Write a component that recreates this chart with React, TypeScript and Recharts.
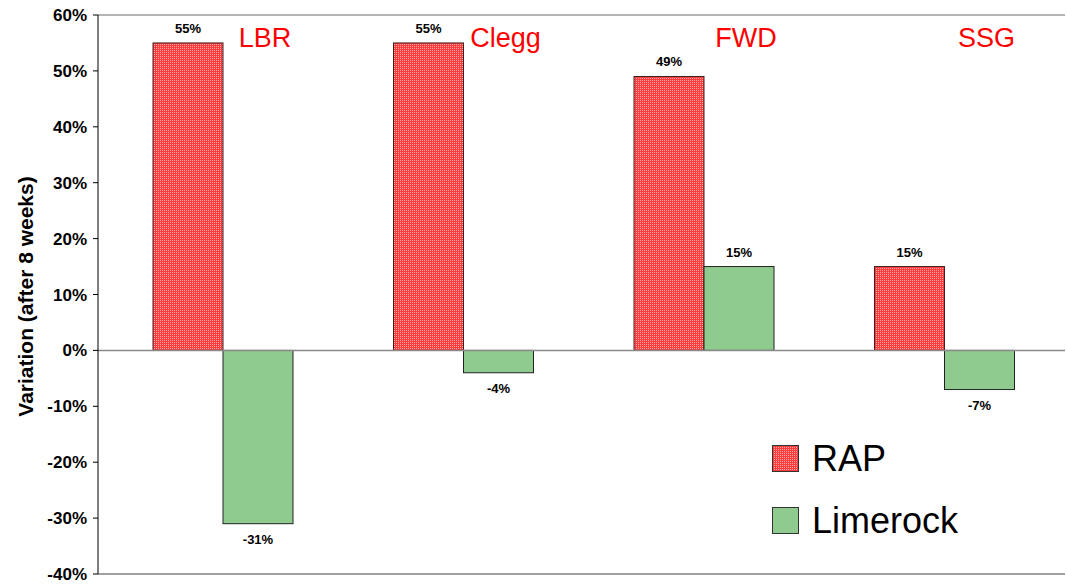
import React from "react";
import {
  BarChart,
  Bar,
  XAxis,
  YAxis,
  ReferenceLine,
  LabelList,
} from "recharts";

const categories = ["LBR", "Clegg", "FWD", "SSG"];
const rapValues = [55, 55, 49, 15];
const limerockValues = [-31, -4, 15, -7];
const yTicks = [-40, -30, -20, -10, 0, 10, 20, 30, 40, 50, 60];
const seriesNames = ["RAP", "Limerock"];

const data = categories.map((name, i) => ({
  name,
  rap: rapValues[i],
  limerock: limerockValues[i],
}));

const FONT = "'Liberation Sans', Arial, Helvetica, sans-serif";
const PLOT_TOP = 15;
const RAP_RED = "#ff3c3c";
const RAP_LIGHT = "#ffa6a6";
const LIME_GREEN = "#8fca8f";
const RAP_FILL = "url(#rapDots)";

const ValueLabel = (props: any) => {
  const { x, y, width, height, value } = props;
  const top = Math.min(y, y + height);
  const bottom = Math.max(y, y + height);
  const ty = value < 0 ? bottom + 20 : top - 10;
  return (
    <text
      x={x + width / 2}
      y={ty}
      textAnchor="middle"
      fontFamily={FONT}
      fontWeight="bold"
      fontSize={13}
      fill="#000"
    >
      {`${value}%`}
    </text>
  );
};

const CategoryLabel = (props: any) => {
  const { x, width, value } = props;
  return (
    <text
      x={x + width + 42}
      y={PLOT_TOP + 32}
      textAnchor="middle"
      fontFamily={FONT}
      fontSize={27}
      fill="#ff0000"
    >
      {value}
    </text>
  );
};

const YLabel = (props: any) => {
  const { viewBox } = props;
  const cy = viewBox.y + viewBox.height / 2 + 2;
  return (
    <text
      x={25}
      y={cy}
      transform={`rotate(-90 25 ${cy})`}
      textAnchor="middle"
      dominantBaseline="central"
      fontFamily={FONT}
      fontWeight="bold"
      fontSize={21}
      fill="#000"
    >
      Variation (after 8 weeks)
    </text>
  );
};

// plain rect so the dotted pattern is painted as-is
const BarShape = (props: any) => {
  const { x, y, width, height, fill, stroke } = props;
  const top = Math.min(y, y + height);
  const h = Math.abs(height);
  return (
    <rect
      x={x}
      y={top}
      width={width}
      height={h}
      fill={fill}
      stroke={stroke}
      strokeWidth={1}
    />
  );
};

const PatternDefs = () => (
  <svg width={0} height={0} style={{ position: "absolute" }}>
    <defs>
      <pattern id="rapDots" x={0} y={0} width={2} height={2} patternUnits="userSpaceOnUse">
        <rect x={0} y={0} width={2} height={2} fill={RAP_RED} />
        <rect x={0} y={0} width={1} height={1} fill={RAP_LIGHT} />
      </pattern>
    </defs>
  </svg>
);

const Swatch = ({ fill }: { fill: string }) => (
  <svg width={27} height={27} style={{ display: "block" }}>
    <rect x={0.5} y={0.5} width={26} height={26} fill={fill} stroke="#333" strokeWidth={1} />
  </svg>
);

const ChartLegend = () => (
  <div style={{ position: "absolute", left: 772, top: 445, fontFamily: FONT }}>
    {seriesNames.map((label, i) => (
      <div
        key={label}
        style={{
          display: "flex",
          alignItems: "center",
          height: 27,
          marginBottom: i === 0 ? 35 : 0,
        }}
      >
        <Swatch fill={i === 0 ? RAP_FILL : LIME_GREEN} />
        <span style={{ fontSize: 36, marginLeft: 13, color: "#000", lineHeight: "27px" }}>
          {label}
        </span>
      </div>
    ))}
  </div>
);

export default function App() {
  return (
    <div style={{ position: "absolute", left: 0, top: 0, width: 1067, height: 584, background: "#fff" }}>
      <PatternDefs />
      <BarChart
        width={1067}
        height={584}
        data={data}
        margin={{ top: PLOT_TOP, right: 2, bottom: 9, left: 0 }}
        barGap={0}
        barSize={70}
      >
        <XAxis
          dataKey="name"
          tick={false}
          tickLine={false}
          height={1}
          padding={{ left: 5, right: 0 }}
          axisLine={{ stroke: "#808080", strokeWidth: 1.5 }}
        />
        <YAxis
          width={98}
          domain={[-40, 60]}
          ticks={yTicks}
          interval={0}
          allowDataOverflow
          tickFormatter={(v: number) => `${v}%`}
          tick={{ fontFamily: FONT, fontWeight: "bold", fontSize: 17, fill: "#000" }}
          tickSize={5}
          tickMargin={6}
          tickLine={{ stroke: "#000" }}
          axisLine={{ stroke: "#000" }}
          label={<YLabel />}
        />
        <ReferenceLine y={60} stroke="#b4b4b4" strokeWidth={2} />
        <ReferenceLine y={0} stroke="#8a8a8a" strokeWidth={1.5} />
        <Bar
          dataKey="rap"
          name={seriesNames[0]}
          fill={RAP_FILL}
          stroke="#402020"
          shape={<BarShape />}
          isAnimationActive={false}
        >
          <LabelList dataKey="rap" content={<ValueLabel />} />
          <LabelList dataKey="name" content={<CategoryLabel />} />
        </Bar>
        <Bar
          dataKey="limerock"
          name={seriesNames[1]}
          fill={LIME_GREEN}
          stroke="#222"
          shape={<BarShape />}
          isAnimationActive={false}
        >
          <LabelList dataKey="limerock" content={<ValueLabel />} />
        </Bar>
      </BarChart>
      <ChartLegend />
    </div>
  );
}
